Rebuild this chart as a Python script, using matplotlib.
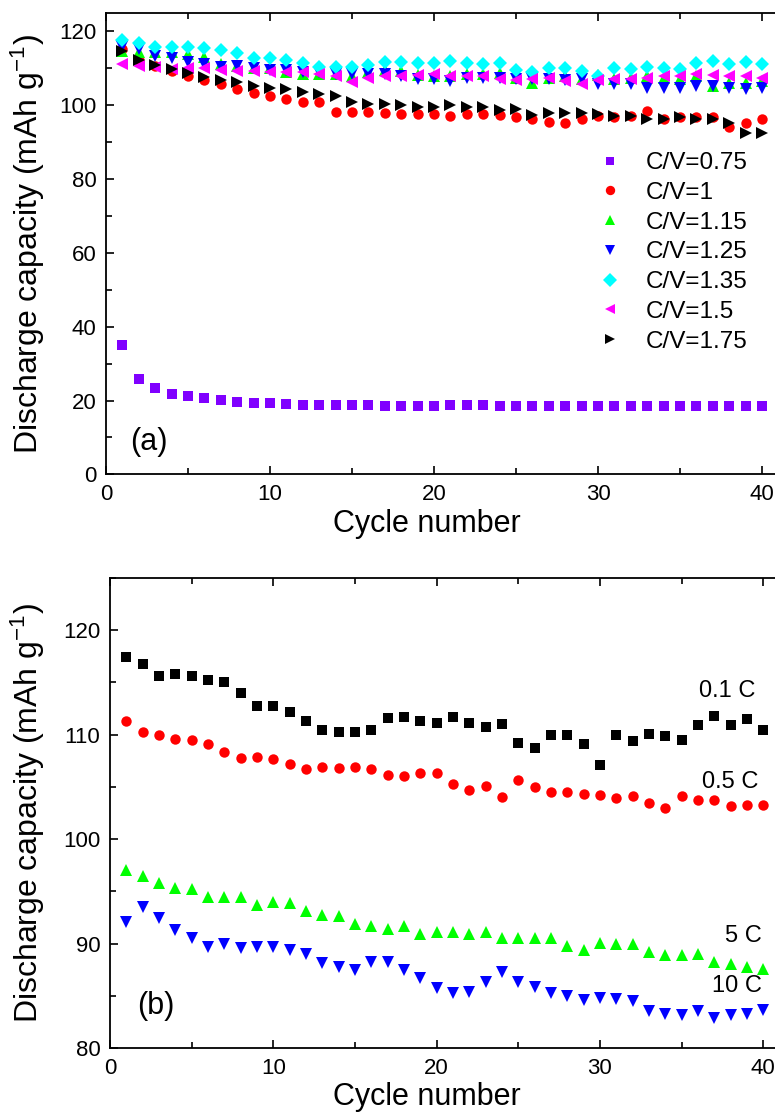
import numpy as np
import matplotlib
matplotlib.use("Agg")
import matplotlib.pyplot as plt
from matplotlib.ticker import MultipleLocator

plt.rcParams['font.family'] = ['Liberation Sans', 'DejaVu Sans']
plt.rcParams['mathtext.fontset'] = 'custom'
plt.rcParams['mathtext.rm'] = 'Liberation Sans'
plt.rcParams['mathtext.it'] = 'Liberation Sans'

# ---------------- data: panel (a) ----------------
cycles = np.arange(1, 41)

cv_labels = ['C/V=0.75', 'C/V=1', 'C/V=1.15', 'C/V=1.25', 'C/V=1.35', 'C/V=1.5', 'C/V=1.75']

cv_075 = [35.1, 25.9, 23.5, 21.8, 21.3, 20.6, 20.1, 19.7, 19.4, 19.4,
          19.1, 18.9, 18.8, 18.7, 18.8, 18.7, 18.6, 18.6, 18.6, 18.5,
          18.8, 18.7, 18.7, 18.6, 18.6, 18.6, 18.6, 18.6, 18.5, 18.5,
          18.5, 18.5, 18.5, 18.5, 18.4, 18.4, 18.4, 18.4, 18.4, 18.4]
cv_1 = [115.2, 112.4, 110.7, 109.3, 108.0, 106.8, 105.7, 104.5, 103.4, 102.4,
        101.6, 101.0, 101.0, 98.3, 98.3, 98.3, 98.0, 97.6, 97.6, 97.6,
        97.1, 97.6, 97.6, 97.3, 96.9, 96.4, 95.5, 95.1, 96.4, 97.1,
        96.9, 97.1, 98.5, 96.4, 96.9, 96.9, 96.9, 94.2, 95.1, 96.2]
cv_115 = [114.7, 114.5, 114.3, 114.3, 113.8, 113.2, 111.1, 110.7, 110.0, 110.1,
          108.9, 108.4, 108.4, 108.4, 107.8, 108.9, 109.6, 109.3, 108.1, 108.0,
          108.0, 108.4, 108.4, 108.7, 107.5, 106.1, 107.5, 108.0, 107.2, 108.1,
          107.2, 107.5, 108.0, 107.5, 107.1, 108.0, 105.2, 106.1, 106.1, 106.6]
cv_125 = [115.7, 115.2, 113.4, 112.9, 111.6, 111.3, 110.5, 110.7, 110.0, 109.6,
          109.6, 109.1, 108.9, 108.4, 108.4, 108.4, 108.4, 108.0, 107.1, 107.1,
          106.6, 107.5, 107.5, 107.5, 107.1, 107.1, 107.2, 106.9, 107.2, 105.7,
          105.7, 105.7, 104.8, 104.8, 104.8, 105.2, 105.2, 104.8, 104.3, 104.8]
cv_135 = [117.7, 117.0, 115.7, 115.9, 115.7, 115.4, 115.0, 114.1, 112.8, 112.8,
          112.3, 111.4, 110.5, 110.5, 110.5, 110.9, 111.8, 111.8, 111.4, 111.4,
          112.0, 111.4, 111.1, 111.4, 109.6, 109.0, 110.2, 110.2, 109.3, 108.0,
          110.2, 109.8, 110.5, 110.2, 109.8, 111.4, 112.0, 111.1, 111.8, 111.1]
cv_15 = [111.1, 110.7, 110.5, 109.8, 110.2, 110.0, 109.6, 109.3, 109.3, 109.0,
         109.0, 109.0, 108.4, 108.0, 106.2, 107.5, 107.8, 108.0, 108.1, 108.4,
         107.8, 107.8, 107.8, 107.2, 106.9, 107.2, 107.5, 106.6, 105.7, 106.9,
         107.1, 107.2, 107.5, 107.8, 107.8, 108.4, 108.1, 108.0, 107.8, 107.5]
cv_175 = [114.7, 112.4, 110.9, 109.8, 108.7, 107.7, 106.9, 106.2, 105.2, 104.8,
          104.3, 103.6, 103.0, 102.4, 100.9, 100.3, 100.3, 100.0, 99.6, 99.4,
          100.0, 99.4, 99.6, 98.7, 98.9, 97.3, 98.0, 97.8, 98.0, 97.6,
          97.1, 97.1, 96.4, 96.4, 96.7, 96.4, 96.4, 95.1, 92.6, 92.6]

# ---------------- data: panel (b) ----------------
rate_labels = ['0.1 C', '0.5 C', '5 C', '10 C']

rate_01 = [117.4, 116.8, 115.6, 115.8, 115.6, 115.2, 115.0, 114.0, 112.7, 112.7,
           112.2, 111.3, 110.4, 110.3, 110.3, 110.4, 111.6, 111.7, 111.3, 111.1,
           111.7, 111.1, 110.7, 111.0, 109.2, 108.7, 110.0, 110.0, 109.1, 107.1,
           110.0, 109.4, 110.1, 109.9, 109.5, 110.9, 111.8, 110.9, 111.5, 110.4]
rate_05 = [111.3, 110.3, 110.0, 109.6, 109.5, 109.1, 108.3, 107.8, 107.9, 107.7,
           107.2, 106.7, 106.9, 106.8, 106.9, 106.7, 106.1, 106.0, 106.3, 106.3,
           105.3, 104.7, 105.1, 104.0, 105.7, 105.0, 104.5, 104.5, 104.3, 104.2,
           103.9, 104.1, 103.5, 103.0, 104.1, 103.7, 103.7, 103.2, 103.3, 103.3]
rate_5 = [97.0, 96.5, 95.8, 95.3, 95.2, 94.5, 94.5, 94.5, 93.7, 94.0,
          93.9, 93.1, 92.7, 92.6, 91.9, 91.7, 91.4, 91.7, 90.9, 91.1,
          91.1, 90.9, 91.1, 90.5, 90.5, 90.5, 90.5, 89.8, 89.4, 90.1,
          90.0, 90.0, 89.2, 88.9, 88.9, 89.0, 88.2, 88.0, 87.8, 87.6]
rate_10 = [92.1, 93.5, 92.4, 91.3, 90.5, 89.7, 90.0, 89.6, 89.7, 89.7,
           89.4, 89.0, 88.1, 87.8, 87.5, 88.2, 88.2, 87.5, 86.7, 85.7,
           85.3, 85.4, 86.3, 87.3, 86.3, 85.8, 85.3, 85.0, 84.6, 84.8,
           84.7, 84.5, 83.5, 83.3, 83.2, 83.5, 82.9, 83.2, 83.3, 83.6]

W, H = 775, 1112
fig = plt.figure(figsize=(W / 100, H / 100), dpi=100)


def px_axes(left, top, bottom, xmax, ppu):
    # axes placed in pixel units of the figure
    width = xmax * ppu
    return fig.add_axes([left / W, 1 - bottom / H, width / W, (bottom - top) / H])


def style_axes(ax):
    for s in ax.spines.values():
        s.set_linewidth(1.3)
    ax.spines['right'].set_visible(False)
    ax.tick_params(which='both', direction='in', top=True, right=False,
                   labelsize=16, width=1.2, pad=7)
    ax.tick_params(which='major', length=6)
    ax.tick_params(which='minor', length=4)
    ax.tick_params(axis='x', which='both', labeltop=False)


# ---------------- panel (a) ----------------
ax1 = px_axes(106, 13, 474.4, 41, 16.4)
markers_a = ['s', 'o', '^', 'v', 'D', '<', '>']
colors_a = ['#8000FF', '#FF0000', '#00FF00', '#0000FF', '#00FFFF', '#FF00FF', '#000000']
sizes_a = [6.5, 7.5, 8.5, 8.5, 7.5, 8.5, 8.5]
series_a = [cv_075, cv_1, cv_115, cv_125, cv_135, cv_15, cv_175]
for vals, lab, m, c, ms in zip(series_a, cv_labels, markers_a, colors_a, sizes_a):
    ax1.plot(cycles, vals, linestyle='none', marker=m, color=c,
             markersize=ms, markeredgewidth=0, label=lab)

ax1.set_xlim(0, 41)
ax1.set_ylim(0, 125)
ax1.xaxis.set_major_locator(MultipleLocator(10))
ax1.xaxis.set_minor_locator(MultipleLocator(5))
ax1.yaxis.set_major_locator(MultipleLocator(20))
ax1.yaxis.set_minor_locator(MultipleLocator(10))
style_axes(ax1)
ax1.set_xlabel('Cycle number', fontsize=22)
ax1.xaxis.set_label_coords((427 - 106) / (41 * 16.4), -0.074)
ax1.set_ylabel('Discharge capacity (mAh g$^{-1}$)', fontsize=23)
ax1.yaxis.set_label_coords(-0.088, 0.5)
ax1.text(2.6, 8.8, '(a)', fontsize=22, ha='center', va='center')

leg = ax1.legend(loc='upper left', bbox_to_anchor=(598 / W, 1 - 152 / H),
                 bbox_transform=fig.transFigure, frameon=False, fontsize=17.5,
                 handlelength=1.0, handletextpad=0.95, labelspacing=0.32,
                 borderpad=0, borderaxespad=0, markerscale=0.9)

# ---------------- panel (b) ----------------
ax2 = px_axes(110, 578, 1048, 41, 16.33)
markers_b = ['s', 'o', '^', 'v']
colors_b = ['#000000', '#FF0000', '#00FF00', '#0000FF']
sizes_b = [6.5, 7.5, 8.5, 8.5]
series_b = [rate_01, rate_05, rate_5, rate_10]
for vals, m, c, ms in zip(series_b, markers_b, colors_b, sizes_b):
    ax2.plot(cycles, vals, linestyle='none', marker=m, color=c,
             markersize=ms, markeredgewidth=0)

label_pos_x = [37.8, 38.0, 38.8, 38.4]
label_pos_y = [114.2, 105.5, 90.7, 85.9]
for lab, lx, ly in zip(rate_labels, label_pos_x, label_pos_y):
    ax2.text(lx, ly, lab, fontsize=17, ha='center', va='center')

ax2.set_xlim(0, 41)
ax2.set_ylim(80, 125)
ax2.xaxis.set_major_locator(MultipleLocator(10))
ax2.xaxis.set_minor_locator(MultipleLocator(5))
ax2.yaxis.set_major_locator(MultipleLocator(10))
ax2.yaxis.set_minor_locator(MultipleLocator(5))
style_axes(ax2)
ax2.set_xlabel('Cycle number', fontsize=22)
ax2.xaxis.set_label_coords((427 - 110) / (41 * 16.33), -0.072)
ax2.set_ylabel('Discharge capacity (mAh g$^{-1}$)', fontsize=23)
ax2.yaxis.set_label_coords(-0.094, 0.5)
ax2.text(2.8, 84.0, '(b)', fontsize=22, ha='center', va='center')

fig.savefig('out.png', dpi=100)
